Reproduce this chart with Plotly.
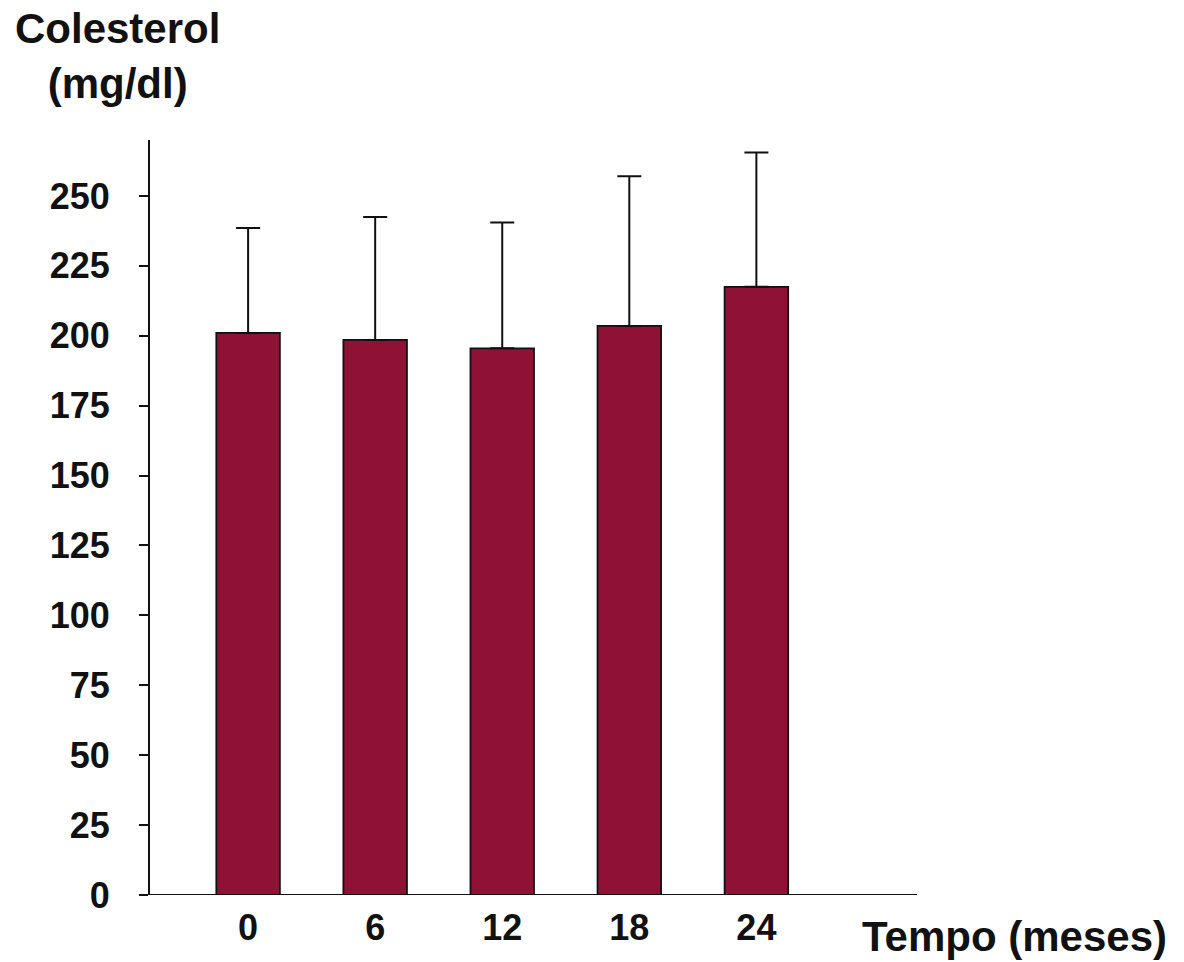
import plotly.graph_objects as go

months = ["0", "6", "12", "18", "24"]
colesterol_mean = [201, 198.5, 195.5, 203.5, 217.5]
colesterol_sd = [37.5, 44, 45, 53.5, 48]
y_ticks = [0, 25, 50, 75, 100, 125, 150, 175, 200, 225, 250]

FONT = "Liberation Sans, Arial, sans-serif"

fig = go.Figure()
fig.add_trace(go.Bar(
    x=months,
    y=colesterol_mean,
    width=0.5,
    marker=dict(color="#8F1236", line=dict(color="#111111", width=1.8)),
    error_y=dict(type="data", symmetric=False, array=colesterol_sd,
                 arrayminus=[0] * len(colesterol_sd),
                 color="#111111", thickness=2, width=12),
    showlegend=False,
))

fig.update_layout(
    width=1184, height=962,
    margin=dict(l=150, r=267, t=140, b=67),
    paper_bgcolor="white", plot_bgcolor="white",
    font=dict(family=FONT, color="#111111"),
    bargap=0.5,
)
fig.update_xaxes(
    type="category", range=[-0.772, 5.264],
    showline=False, ticks="", showgrid=False, zeroline=False,
    tickfont=dict(family=FONT, size=36, color="#111111", weight="bold"),
    ticklabelstandoff=8,
)
fig.update_yaxes(
    range=[0, 270], tickvals=y_ticks, ticktext=[str(v) for v in y_ticks],
    showline=True, linecolor="#111111", linewidth=2,
    ticks="outside", ticklen=9, tickwidth=1.5, tickcolor="#111111",
    showgrid=False, zeroline=False,
    tickfont=dict(family=FONT, size=36, color="#111111", weight="bold"),
    ticklabelstandoff=22,
)
# x axis baseline (extends slightly left of y axis)
fig.add_shape(type="line", xref="paper", yref="y", x0=-0.013, x1=1, y0=0, y1=0,
              line=dict(color="#111111", width=2))

fig.add_annotation(text="<b>Colesterol</b><br><b>(mg/dl)</b>", xref="paper", yref="paper",
                   x=-0.043, y=1.182, xanchor="center", yanchor="top", showarrow=False,
                   align="center", font=dict(family=FONT, size=42, color="#111111"))
fig.add_annotation(text="<b>Tempo (meses)</b>", xref="paper", yref="paper",
                   x=1.328, y=-0.0556, xanchor="right", yanchor="middle", showarrow=False,
                   font=dict(family=FONT, size=42, color="#111111"))

fig.write_html("out.html")
